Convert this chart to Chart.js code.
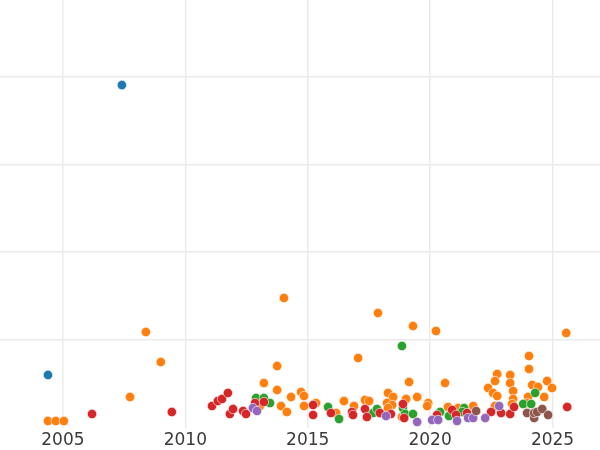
<!DOCTYPE html>
<html>
<head>
<meta charset="utf-8">
<script src="https://cdn.jsdelivr.net/npm/chart.js@4/dist/chart.umd.min.js"></script>
<style>
  html, body { margin: 0; padding: 0; background: #fff; }
  #wrap { width: 600px; height: 450px; }
</style>
</head>
<body>
<div id="wrap"><canvas id="scatterChart" width="600" height="450"></canvas></div>
<script>
// x = year, y = value
var seriesNames = ["blue", "orange", "green", "red", "purple", "brown"];
var seriesColors = ["#1f77b4", "#ff7f0e", "#2ca02c", "#d62728", "#9467bd", "#8c564b"];

var bluePoints = [[2007.41, 390.5], [2004.39, 59.9]];

var orangePoints = [
  [2004.39, 7.4], [2004.71, 7.4], [2005.04, 7.4],
  [2007.74, 34.8], [2008.39, 108.9], [2009.0, 74.7],
  [2013.05, 24.5], [2013.21, 50.7], [2013.75, 70.1], [2013.75, 42.8],
  [2014.03, 147.7], [2013.91, 24.5], [2014.15, 17.7], [2014.32, 34.8],
  [2014.73, 40.5], [2014.85, 35.9], [2014.85, 24.5], [2015.34, 27.9],
  [2016.16, 16.5], [2016.48, 30.2], [2016.89, 24.5], [2017.06, 79.2],
  [2017.34, 31.4], [2017.51, 30.2], [2017.87, 130.6],
  [2018.28, 39.4], [2018.49, 34.8], [2018.24, 27.9], [2018.45, 25.7],
  [2018.28, 22.2], [2018.85, 12.0], [2019.02, 32.5], [2019.14, 51.9],
  [2019.30, 115.7], [2019.47, 34.8], [2019.92, 27.9], [2019.88, 24.5],
  [2020.24, 110.0], [2020.61, 50.7], [2020.73, 23.4], [2021.14, 22.2],
  [2021.76, 24.5], [2022.65, 24.5], [2022.74, 61.0], [2022.65, 53.0],
  [2022.37, 45.0], [2022.57, 39.4], [2022.74, 35.9],
  [2023.27, 59.9], [2023.27, 50.7], [2023.39, 41.6], [2023.39, 32.5],
  [2023.35, 26.8], [2024.04, 81.5], [2024.04, 66.7], [2024.17, 48.5],
  [2024.41, 46.2], [2024.78, 53.0], [2024.98, 45.0], [2024.66, 34.8],
  [2024.0, 34.8], [2023.96, 27.9], [2025.56, 107.8]
];

var greenPoints = [
  [2012.89, 33.6], [2013.21, 33.6], [2013.46, 27.9],
  [2015.83, 23.4], [2016.28, 9.7], [2017.67, 16.5], [2017.83, 21.1],
  [2018.85, 92.9], [2018.89, 22.2], [2018.98, 15.4], [2019.30, 15.4],
  [2020.41, 17.7], [2020.77, 13.1], [2021.39, 22.2], [2021.31, 17.7],
  [2023.80, 26.8], [2024.13, 26.8], [2024.29, 39.4]
];

var redPoints = [
  [2006.19, 15.4], [2009.45, 17.7],
  [2011.09, 24.5], [2011.33, 30.2], [2011.50, 32.5], [2011.74, 39.4],
  [2011.82, 15.4], [2011.95, 21.1], [2012.36, 18.8], [2012.48, 15.4],
  [2012.85, 27.9], [2013.21, 29.1],
  [2015.22, 25.7], [2015.22, 14.3], [2015.95, 16.5], [2016.81, 17.7], [2016.85, 14.3],
  [2017.34, 21.1], [2017.42, 12.0], [2017.95, 16.5], [2018.40, 15.4],
  [2018.89, 26.8], [2018.94, 10.8],
  [2020.28, 14.3], [2020.90, 20.0], [2021.06, 14.3], [2021.51, 16.5],
  [2022.49, 17.7], [2022.90, 16.5], [2023.27, 15.4], [2023.43, 23.4],
  [2025.60, 23.4]
];

var purplePoints = [
  [2012.76, 22.2], [2012.93, 18.8], [2018.20, 13.1], [2019.47, 6.3],
  [2020.08, 8.6], [2020.33, 8.6], [2021.10, 7.4], [2021.55, 10.8],
  [2021.76, 10.8], [2022.25, 10.8], [2022.82, 24.5]
];

var brownPoints = [
  [2021.88, 18.8], [2023.96, 16.5], [2024.25, 10.8], [2024.25, 16.5],
  [2024.37, 17.7], [2024.58, 21.1], [2024.82, 14.3]
];

var yearTicks = [2005, 2010, 2015, 2020, 2025];
var valueTicks = [0, 100, 200, 300, 400];

var allPoints = [bluePoints, orangePoints, greenPoints, redPoints, purplePoints, brownPoints];

var datasets = allPoints.map(function(pts, i) {
  return {
    label: seriesNames[i],
    data: pts.map(function(p) { return { x: p[0], y: p[1] }; }),
    backgroundColor: seriesColors[i],
    borderColor: "#ffffff",
    borderWidth: 0.6,
    pointRadius: 4.7,
    pointHoverRadius: 4.7,
    order: allPoints.length - i
  };
});

var ctx = document.getElementById("scatterChart").getContext("2d");
var chart = new Chart(ctx, {
  type: "scatter",
  data: { datasets: datasets },
  options: {
    responsive: false,
    animation: false,
    layout: { padding: { left: 0, right: 0, top: 0, bottom: -4.5 }, autoPadding: false },
    plugins: {
      legend: { display: false },
      tooltip: { enabled: false }
    },
    scales: {
      x: {
        type: "linear",
        min: 2002.43,
        max: 2026.94,
        afterBuildTicks: function(scale) {
          scale.ticks = yearTicks.map(function(v) { return { value: v }; });
        },
        border: { display: false },
        grid: { color: "#ebebeb", lineWidth: 1.5, drawTicks: false },
        ticks: {
          padding: 5,
          color: "#3a3a3a",
          font: { family: "DejaVu Sans", size: 17, lineHeight: 1.0 },
          callback: function(v) { return String(v); }
        }
      },
      y: {
        type: "linear",
        min: 0,
        max: 487.5,
        afterBuildTicks: function(scale) {
          scale.ticks = valueTicks.map(function(v) { return { value: v }; });
        },
        border: { display: false },
        grid: {
          color: function(c) { return c.tick && c.tick.value === 0 ? "rgba(0,0,0,0)" : "#ebebeb"; },
          lineWidth: 1.5,
          drawTicks: false
        },
        ticks: { display: false }
      }
    }
  }
});
</script>
</body>
</html>
